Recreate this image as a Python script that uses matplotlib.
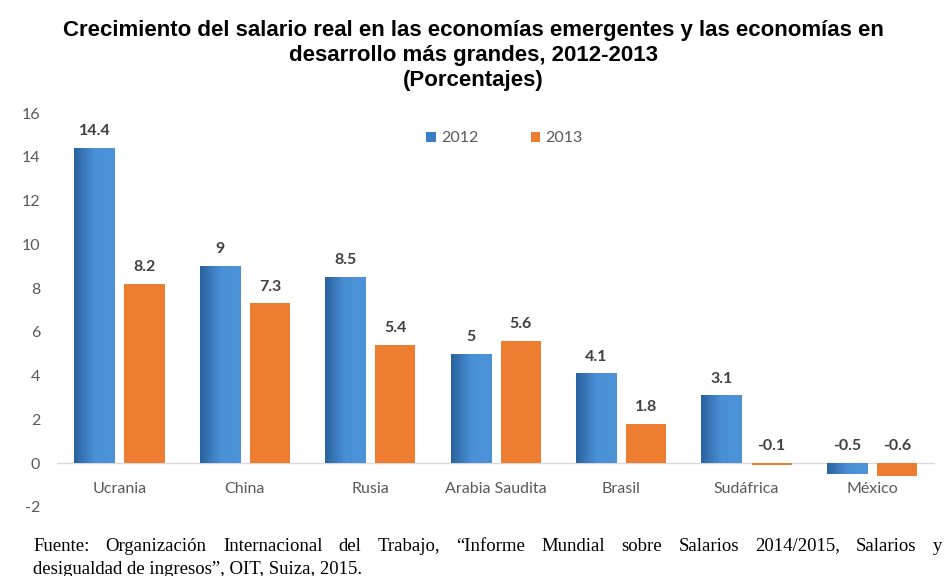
import matplotlib.pyplot as plt
import numpy as np
from matplotlib.colors import LinearSegmentedColormap

categorias = ["Ucrania", "China", "Rusia", "Arabia Saudita", "Brasil", "Sudáfrica", "México"]
valores_2012 = [14.4, 9, 8.5, 5, 4.1, 3.1, -0.5]
valores_2013 = [8.2, 7.3, 5.4, 5.6, 1.8, -0.1, -0.6]
etiquetas_y = [-2, 0, 2, 4, 6, 8, 10, 12, 14, 16]

azul = "#3b7dc4"
naranja = "#ed7d31"
gris_texto = "#595959"

fig = plt.figure(figsize=(9.46, 5.76), dpi=100)
ax = fig.add_axes([0.060, 0.1198, 0.928, 0.684])

x = np.arange(len(categorias))
ancho = 0.32
barras_a = ax.bar(x - 0.2, valores_2012, ancho, color=azul, label="2012", zorder=2)
barras_b = ax.bar(x + 0.2, valores_2013, ancho, color=naranja, label="2013", zorder=2)

# degradado horizontal sobre las barras azules
grad = LinearSegmentedColormap.from_list("g", ["#2a629f", "#4a90d6", "#4d93d8"])
for b in barras_a:
    x0, y0 = b.get_x(), b.get_y()
    w, h = b.get_width(), b.get_height()
    im = ax.imshow(np.linspace(0, 1, 64).reshape(1, -1), cmap=grad, aspect="auto",
                   extent=(x0, x0 + w, y0, y0 + h), zorder=3)
    im.set_clip_path(b)

ax.set_xlim(-0.5, len(categorias) - 0.5)
ax.set_ylim(-2, 16)
ax.set_yticks(etiquetas_y)
ax.set_yticklabels([str(v) for v in etiquetas_y], family="Lato", fontsize=11.5, color=gris_texto)
ax.tick_params(axis="y", length=0, pad=12)
ax.set_xticks([])
for s in ax.spines.values():
    s.set_visible(False)
ax.axhline(0, color="#d9d9d9", lw=1, zorder=1)

# etiquetas de valor
for barras, vals in ((barras_a, valores_2012), (barras_b, valores_2013)):
    for b, v in zip(barras, vals):
        y = max(v, 0) + 0.45
        ax.text(b.get_x() + b.get_width() / 2, y, f"{v:g}", ha="center", va="bottom",
                family="Lato", fontweight="bold", fontsize=11.5, color="#404040")

# nombres de países bajo la línea de cero
for xi, nombre in zip(x, categorias):
    ax.text(xi, -1.2, nombre, ha="center", va="center", family="Lato",
            fontsize=11.5, color=gris_texto)

ax.legend(loc="upper center", bbox_to_anchor=(0.51, 0.99), ncol=2, frameon=False,
          prop={"family": "Lato", "size": 11.5}, labelcolor=gris_texto,
          handlelength=0.6, handleheight=0.6, handletextpad=0.3, columnspacing=3.3)

titulo = ["Crecimiento del salario real en las economías emergentes y las economías en",
          "desarrollo más grandes, 2012-2013",
          "(Porcentajes)"]
for i, linea in enumerate(titulo):
    fig.text(0.5, 0.947 - i * 0.043, linea, ha="center", va="center",
             family="Liberation Sans", fontweight="bold", fontsize=16)

# fuente: primera línea justificada entre los márgenes
renderer = fig.canvas.get_renderer()
palabras = "Fuente: Organización Internacional del Trabajo, “Informe Mundial sobre Salarios 2014/2015, Salarios y".split()
izq, der = 0.035, 0.996
textos = [fig.text(0, 0.052, p, ha="left", va="center", family="Liberation Serif", fontsize=13.5)
          for p in palabras]
anchos = [t.get_window_extent(renderer).width / fig.bbox.width for t in textos]
hueco = (der - izq - sum(anchos)) / (len(palabras) - 1)
pos = izq
for t, w in zip(textos, anchos):
    t.set_x(pos)
    pos += w + hueco
fig.text(izq, 0.012, "desigualdad de ingresos”, OIT, Suiza, 2015.",
         ha="left", va="center", family="Liberation Serif", fontsize=13.5)

fig.savefig("out.png", dpi=100)
